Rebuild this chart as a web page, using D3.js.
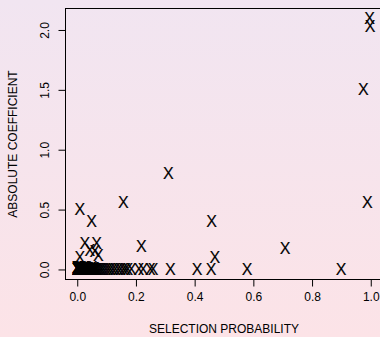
<!DOCTYPE html>
<html><head><meta charset="utf-8">
<script src="https://cdn.jsdelivr.net/npm/d3@7"></script>
<style>html,body{margin:0;padding:0;overflow:hidden;}</style>
</head><body>
<script>
// Selection probability (x) and absolute coefficient (y)
const selProb = [0.996, 0.998, 0.975, 0.988, 0.31, 0.157, 0.009, 0.049, 0.458, 0.218, 0.708, 0.469,
  0.026, 0.066, 0.043, 0.06, 0.072, 0.009,
  0, 0, 0, 0, 0, 0, 0, 0, 0, 0, 0, 0, 0.001, 0.002, 0.003, 0.004, 0.005, 0.006, 0.007, 0.008, 0.009,
  0.011, 0.012, 0.013, 0.014, 0.016, 0.017, 0.019, 0.02, 0.021, 0.023,
  0.024, 0.025, 0.026, 0.028, 0.029, 0.031, 0.032, 0.034, 0.035, 0.037, 0.039, 0.04, 0.042, 0.044,
  0.046, 0.047, 0.048, 0.051, 0.053, 0.055, 0.057, 0.058, 0.061, 0.063,
  0.066, 0.071, 0.077, 0.083, 0.09, 0.097, 0.105, 0.113, 0.121, 0.13, 0.139, 0.148, 0.157, 0.165, 0.172,
  0.184, 0.21, 0.224, 0.249, 0.258, 0.317, 0.408, 0.456, 0.579, 0.899];
const absCoef = [2.096, 2.028, 1.505, 0.565, 0.805, 0.56, 0.505, 0.405, 0.405, 0.195, 0.175, 0.1,
  0.219, 0.219, 0.163, 0.149, 0.121, 0.1,
  0, 0.01, 0.02, 0, 0.005, 0.015, 0, 0.01, 0.003, 0.017, 0, 0.008, 0, 0.02, 0, 0.012, 0, 0.018, 0, 0.006, 0.015,
  0, 0.01, 0, 0.02, 0.004, 0, 0.013, 0, 0.008, 0.017,
  0, 0.005, 0, 0.012, 0, 0.016, 0.003, 0, 0.009, 0, 0.014, 0, 0.006, 0,
  0.011, 0, 0.004, 0.015, 0, 0.007, 0, 0.012, 0, 0.003,
  0.004, 0, 0.006, 0, 0.003, 0, 0.002, 0, 0, 0.002, 0, 0, 0.001, 0, 0,
  0, 0, 0, 0, 0, 0, 0, 0, 0, 0];
const xTicks = [0, 0.2, 0.4, 0.6, 0.8, 1.0];
const yTicks = [0, 0.5, 1.0, 1.5, 2.0];
const xTitle = "SELECTION PROBABILITY";
const yTitle = "ABSOLUTE COEFFICIENT";

(function () {
const W = 380, H = 337;
const svg = d3.select("body").append("svg").attr("width", W).attr("height", H)
  .style("font-family", "'Liberation Sans', Arial, Helvetica, sans-serif");

const defs = svg.append("defs");
const grad = defs.append("linearGradient").attr("id", "bg").attr("x1", 0).attr("y1", 0).attr("x2", 0).attr("y2", 1);
grad.append("stop").attr("offset", "0%").attr("stop-color", "#f1e5f1");
grad.append("stop").attr("offset", "100%").attr("stop-color", "#fce3e7");
svg.append("rect").attr("width", W).attr("height", H).attr("fill", "url(#bg)");

const pl = 65.5, pr = 382.5, pt = 8.5, pb = 279.5;
const x = d3.scaleLinear().domain([-0.04, 1.04]).range([pl, pr]);
const y = d3.scaleLinear().domain([-0.0838, 2.1793]).range([pb, pt]);

svg.append("rect").attr("x", pl).attr("y", pt).attr("width", pr - pl).attr("height", pb - pt)
  .attr("fill", "none").attr("stroke", "#000").attr("stroke-width", 1);

const xAxis = d3.axisBottom(x).tickValues(xTicks).tickFormat(d3.format(".1f")).tickSize(7).tickPadding(6);
const gx = svg.append("g").attr("transform", `translate(0,${pb})`).call(xAxis);
gx.select(".domain").attr("d", `M${x(0)},0H${x(1)}`);
gx.selectAll("text").attr("font-size", 12).attr("font-family", null).attr("fill", "#000");
gx.selectAll("line").attr("stroke", "#000");

const yAxis = d3.axisLeft(y).tickValues(yTicks).tickFormat(d3.format(".1f")).tickSize(7).tickPadding(4);
const gy = svg.append("g").attr("transform", `translate(${pl},0)`).call(yAxis);
gy.select(".domain").attr("d", `M0,${y(0)}V${y(2)}`);
gy.selectAll("line").attr("stroke", "#000");
gy.selectAll("text").attr("font-size", 12).attr("font-family", null).attr("fill", "#000")
  .attr("text-anchor", "middle").attr("x", null).attr("dy", null).attr("y", 0)
  .attr("transform", "translate(-17,0) rotate(-90)");

svg.append("text").attr("x", (pl + pr) / 2).attr("y", 333).attr("text-anchor", "middle")
  .attr("font-size", 12).text(xTitle);
svg.append("text").attr("transform", `translate(17,${(pt + pb) / 2}) rotate(-90)`)
  .attr("text-anchor", "middle").attr("font-size", 12).text(yTitle);

const pts = selProb.map((v, i) => [v, absCoef[i]]);
svg.append("g").selectAll("text").data(pts).join("text")
  .attr("x", d => x(d[0])).attr("y", d => y(d[1])).attr("dy", "0.36em")
  .attr("text-anchor", "middle").attr("font-size", 16).attr("stroke", "#000").attr("stroke-width", 0.15)
  .text("X");
})();
</script>
</body></html>
